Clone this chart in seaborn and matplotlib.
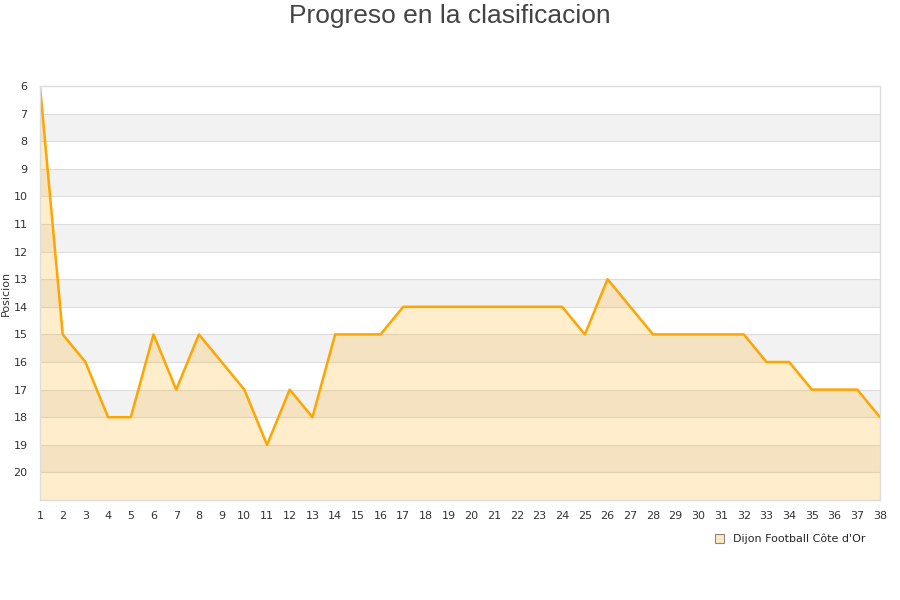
import matplotlib
matplotlib.use("Agg")
import matplotlib.pyplot as plt
import seaborn as sns
import pandas as pd
from matplotlib.patches import Patch

jornadas = list(range(1, 39))
posiciones = [6, 15, 16, 18, 18, 15, 17, 15, 16, 17, 19, 17, 18, 15, 15, 15, 14, 14, 14, 14,
              14, 14, 14, 14, 15, 13, 14, 15, 15, 15, 15, 15, 16, 16, 17, 17, 17, 18]
equipo = "Dijon Football Côte d'Or"
titulo = "Progreso en la clasificacion"

df = pd.DataFrame({"Jornada": jornadas, "Posicion": posiciones})

sns.set_style("white")
plt.rcParams['font.family'] = ['DejaVu Sans']

fig = plt.figure(figsize=(9, 6), dpi=100)
ax = fig.add_axes([40 / 900, 100 / 600, 840 / 900, 414 / 600])

# bandas alternas
for y0 in range(7, 21, 2):
    ax.axhspan(y0, y0 + 1, color="#f2f2f2", zorder=0, lw=0)
for y in range(6, 22):
    ax.axhline(y, color="#dddddd", lw=0.8, zorder=0.5)

ax.fill_between(df["Jornada"], df["Posicion"], 21, color="#ffa500", alpha=0.2, lw=0, zorder=1)
sns.lineplot(data=df, x="Jornada", y="Posicion", color="#ffa500", lw=1.8, ax=ax, zorder=2)

ax.set_xlim(1, 38)
ax.set_ylim(21, 6)
ax.set_xticks(jornadas)
ax.set_yticks(range(6, 21))
ax.tick_params(axis="both", length=0, labelsize=8, colors="#333333")
ax.tick_params(axis="x", pad=8)
ax.tick_params(axis="y", pad=9)
ax.set_xlabel("")
ax.set_ylabel("Posicion", fontsize=8, color="#333333", labelpad=2)
for s in ax.spines.values():
    s.set_color("#dddddd")
    s.set_linewidth(1)

fig.text(0.5, 1 - 16 / 600, titulo, ha="center", va="center", fontsize=19,
         color="#444444", fontfamily="Liberation Sans")

fig.legend(handles=[Patch(facecolor="#ffe8c0", edgecolor="#888888", lw=0.8, label=equipo)],
           loc="center left", bbox_to_anchor=(705 / 900, 1 - 539 / 600), frameon=False,
           fontsize=8, handlelength=0.8, handleheight=0.8, handletextpad=0.8)

fig.savefig("out.png", dpi=100)
